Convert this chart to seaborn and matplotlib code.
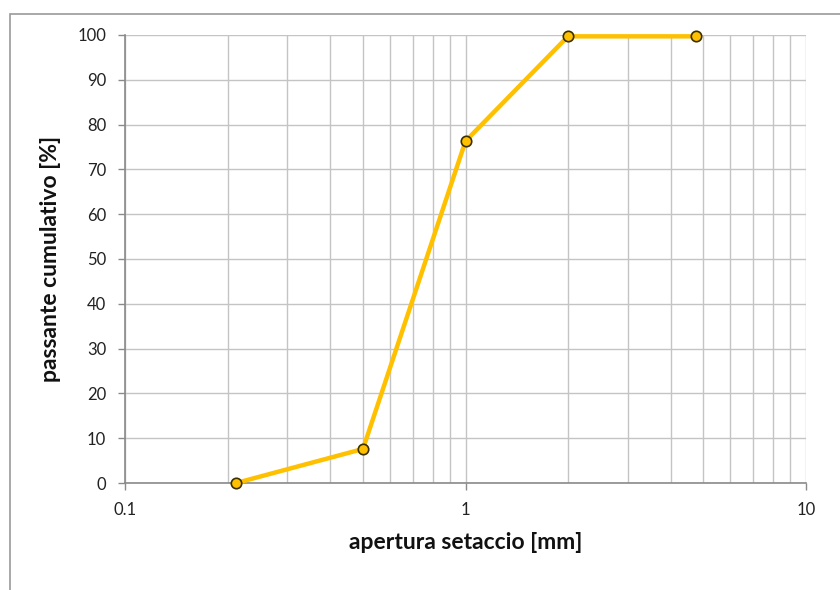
import matplotlib
matplotlib.use("Agg")
import matplotlib.pyplot as plt
from matplotlib.patches import Rectangle
from matplotlib.ticker import FixedLocator, NullFormatter, FixedFormatter
import seaborn as sns
import pandas as pd

# Sieve analysis: sieve opening [mm] vs cumulative passing [%]
apertura_mm = [0.212, 0.5, 1.0, 2.0, 4.75]
passante_pct = [0.0, 7.6, 76.3, 99.7, 99.7]

x_ticks = [0.1, 1, 10]
x_tick_labels = ["0.1", "1", "10"]
y_ticks = list(range(0, 101, 10))

sns.set_theme(style="white")
plt.rcParams["font.family"] = ["Lato", "DejaVu Sans"]

fig = plt.figure(figsize=(8.4, 5.9), dpi=100)
W, H = 840, 590

# outer chart frame
fig.patches.append(Rectangle((10 / W, -0.05), 1.2, 1 - 13.5 / H + 0.05,
                             transform=fig.transFigure, fill=False,
                             edgecolor="#9a9a9a", linewidth=1.2))

ax = fig.add_axes([125 / W, 1 - 483 / H, (806 - 125) / W, (483 - 35) / H])

df = pd.DataFrame({"apertura": apertura_mm, "passante": passante_pct})
sns.lineplot(data=df, x="apertura", y="passante", ax=ax, color="#FFC000",
             linewidth=3.2, marker="o", markersize=7.5,
             markerfacecolor="#FFC000", markeredgecolor="#3b3000",
             markeredgewidth=1.2, zorder=5, clip_on=False)

ax.set_xscale("log")
ax.set_xlim(0.1, 10)
ax.set_ylim(0, 100)

# major + minor vertical grid
minor = [m * d for d in (0.1, 1) for m in range(2, 10)]
ax.xaxis.set_major_locator(FixedLocator(x_ticks))
ax.xaxis.set_major_formatter(FixedFormatter(x_tick_labels))
ax.xaxis.set_minor_locator(FixedLocator(minor))
ax.xaxis.set_minor_formatter(NullFormatter())
ax.yaxis.set_major_locator(FixedLocator(y_ticks))

ax.grid(True, which="major", axis="both", color="#c4c4c4", linewidth=1.0)
ax.grid(True, which="minor", axis="x", color="#c4c4c4", linewidth=1.0)
ax.set_axisbelow(True)

for s in ("top", "right"):
    ax.spines[s].set_visible(False)
for s in ("left", "bottom"):
    ax.spines[s].set_color("#8a8a8a")
    ax.spines[s].set_linewidth(1.2)

ax.tick_params(axis="both", which="major", direction="out", length=5,
               width=1.0, color="#8a8a8a", labelsize=12, labelcolor="#222222",
               left=True, bottom=True, pad=8.5)
ax.tick_params(axis="x", which="minor", length=0)
ax.tick_params(axis="x", which="major", pad=9)

ax.set_xlabel("apertura setaccio [mm]", fontsize=16.5, fontweight="bold",
              color="#111111", labelpad=10)
ax.set_ylabel("passante cumulativo [%]", fontsize=16.5, fontweight="bold",
              color="#111111", labelpad=12)

fig.savefig("out.png", dpi=100)
